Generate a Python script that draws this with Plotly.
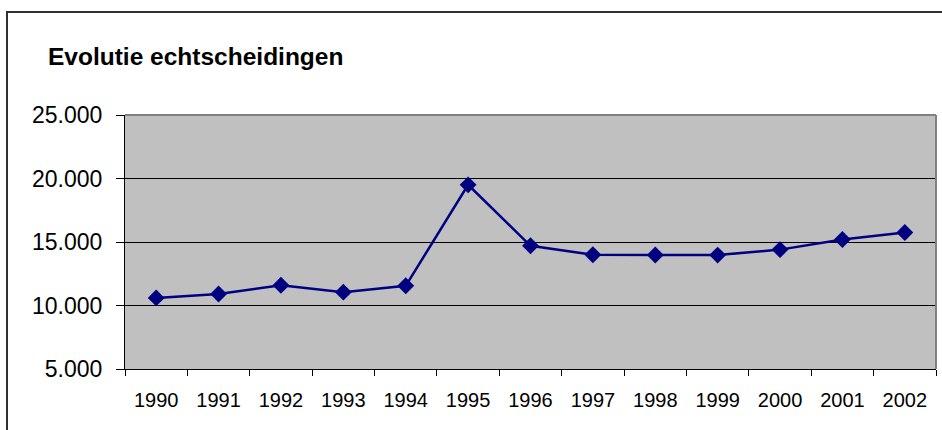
import plotly.graph_objects as go

years = ["1990", "1991", "1992", "1993", "1994", "1995", "1996",
         "1997", "1998", "1999", "2000", "2001", "2002"]
divorces = [10600, 10900, 11600, 11050, 11550, 19500, 14700,
            14000, 13980, 13970, 14400, 15200, 15750]
title_text = "Evolutie echtscheidingen"
y_ticks = [5000, 10000, 15000, 20000, 25000]

W, H = 942, 430
L, R, T, B = 125, 6, 115, 61
pw, ph = W - L - R, H - T - B

def px_x(x):
    return (x - L) / pw

def px_y(y):
    return (H - B - y) / ph

fig = go.Figure()
fig.add_trace(go.Scatter(
    x=years, y=divorces, mode="lines+markers",
    line=dict(color="#000080", width=2.5),
    marker=dict(symbol="diamond", size=13, color="#000080"),
    cliponaxis=False, showlegend=False,
))

font = "Liberation Sans, Arial, sans-serif"
fig.update_layout(
    width=W, height=H,
    margin=dict(l=L, r=R, t=T, b=B, pad=0),
    paper_bgcolor="white", plot_bgcolor="#C0C0C0",
    separators=",.",
    font=dict(family=font, color="black"),
    xaxis=dict(
        type="category", tickson="boundaries", ticks="outside",
        ticklen=6, tickcolor="black", tickwidth=1,
        showline=True, linecolor="black", linewidth=1,
        showgrid=False, tickfont=dict(size=20, family=font, color="black"),
        ticklabelstandoff=13, range=[-0.5, 12.5], fixedrange=True,
    ),
    yaxis=dict(
        range=[5000, 25000], tickvals=y_ticks, tickformat=",d",
        ticks="outside", ticklen=8, tickcolor="black", tickwidth=1,
        showline=True, linecolor="black", linewidth=1,
        showgrid=True, gridcolor="black", gridwidth=1, zeroline=False,
        tickfont=dict(size=23, family=font, color="black"),
        ticklabelstandoff=9,
    ),
    annotations=[dict(
        text="<b>" + title_text + "</b>", xref="paper", yref="paper",
        x=px_x(46), y=px_y(57), xanchor="left", yanchor="middle",
        showarrow=False, font=dict(size=24.5, family=font, color="black"),
    )],
    shapes=[
        # chart area border (left and top visible)
        dict(type="line", xref="paper", yref="paper",
             x0=px_x(7), x1=px_x(7), y0=px_y(12), y1=px_y(440),
             line=dict(color="#303030", width=2)),
        dict(type="line", xref="paper", yref="paper",
             x0=px_x(6), x1=px_x(950), y0=px_y(12), y1=px_y(12),
             line=dict(color="#303030", width=2)),
        # plot area border top and right (gray)
        dict(type="line", xref="paper", yref="paper", layer="above",
             x0=0, x1=1, y0=1, y1=1, line=dict(color="#808080", width=2)),
        dict(type="line", xref="paper", yref="paper", layer="above",
             x0=1, x1=1, y0=0, y1=1, line=dict(color="#808080", width=2)),
    ],
)

fig.write_html("out.html",
               config={"displayModeBar": False},
               post_script="document.body.style.margin='0';")
